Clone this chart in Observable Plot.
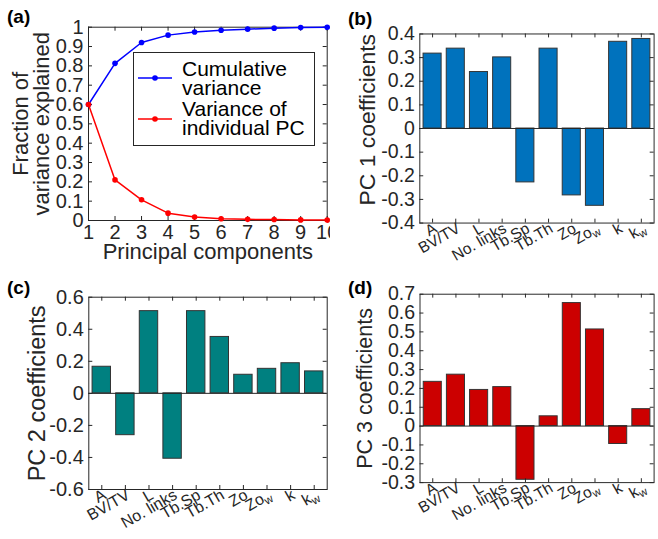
<!DOCTYPE html>
<html><head><meta charset="utf-8">
<script src="https://cdn.jsdelivr.net/npm/d3@7"></script>
<script src="https://cdn.jsdelivr.net/npm/@observablehq/plot@0.6"></script>
<style>
html,body{margin:0;padding:0;background:#fff;}
#fig{position:relative;width:658px;height:539px;overflow:hidden;font-family:"Liberation Sans",Arial,Helvetica,sans-serif;color:#262626;}
.panel{position:absolute;}
.panel svg{overflow:hidden;}
.plab{position:absolute;font-weight:bold;font-size:19px;line-height:19px;color:#000;}
#legend{position:absolute;left:133px;top:52px;width:182px;height:94px;border:1px solid #262626;background:#fff;box-sizing:border-box;}
.lrow{position:absolute;left:48px;font-size:21px;line-height:19px;white-space:pre;color:#000;}
.lsw{position:absolute;left:3px;}
</style></head><body><div id="fig"></div>
<script>
// ---------- data ----------
const components = [1, 2, 3, 4, 5, 6, 7, 8, 9, 10];
const cumulativeVariance = [0.60, 0.813, 0.921, 0.959, 0.975, 0.984, 0.990, 0.995, 0.998, 1.0];
const individualVariance = [0.60, 0.21, 0.107, 0.038, 0.018, 0.009, 0.006, 0.005, 0.003, 0.002];
const fractionTicks = [0, 0.1, 0.2, 0.3, 0.4, 0.5, 0.6, 0.7, 0.8, 0.9, 1];
const legendLabels = ["Cumulative\nvariance", "Variance of\nindividual PC"];
const seriesColors = ["#0000FF", "#FF0000"];

const categories = ["A", "BV/TV", "L", "No. links", "Tb.Sp", "Tb.Th", "Zo", "Zo_w", "k", "k_w"];
const pc1 = [0.317, 0.338, 0.239, 0.301, -0.228, 0.338, -0.283, -0.327, 0.367, 0.379];
const pc2 = [0.166, -0.261, 0.513, -0.408, 0.513, 0.352, 0.116, 0.153, 0.188, 0.137];
const pc3 = [0.235, 0.273, 0.192, 0.207, -0.285, 0.052, 0.653, 0.513, -0.095, 0.090];
const pc1Ticks = [-0.4, -0.3, -0.2, -0.1, 0, 0.1, 0.2, 0.3, 0.4];
const pc2Ticks = [-0.6, -0.4, -0.2, 0, 0.2, 0.4, 0.6];
const pc3Ticks = [-0.3, -0.2, -0.1, 0, 0.1, 0.2, 0.3, 0.4, 0.5, 0.6, 0.7];
const barColors = ["#0072BD", "#008080", "#CC0000"];
const panelLetters = ["(a)", "(b)", "(c)", "(d)"];

// ---------- helpers ----------
const AX = "#262626";
const FONT = "'Liberation Sans', Arial, Helvetica, sans-serif";
const TICK = 4;
const fig = document.getElementById("fig");
const fmt = d => String(+(+d).toFixed(2));

function styleOpts(w, h, m) {
  return {width: w, height: h, marginLeft: m[0], marginRight: m[1], marginTop: m[2], marginBottom: m[3],
    style: {fontFamily: FONT, fontSize: "20px", color: AX, background: "transparent", overflow: "hidden"}};
}
function boxAxes(xTicks, yTicks, xText, w, h, m) {
  const iw = w - m[0] - m[1], ih = h - m[2] - m[3];
  return [
    Plot.tickX(xTicks, {x: d => d, stroke: AX, insetTop: ih - TICK}),
    Plot.tickX(xTicks, {x: d => d, stroke: AX, insetBottom: ih - TICK}),
    Plot.tickY(yTicks, {y: d => d, stroke: AX, insetRight: iw - TICK}),
    Plot.tickY(yTicks, {y: d => d, stroke: AX, insetLeft: iw - TICK}),
    Plot.axisX(xTicks, {anchor: "bottom", tickSize: 0, label: null, ...xText}),
    Plot.axisY(yTicks, {anchor: "left", tickSize: 0, tickPadding: 5, tickFormat: fmt, label: null})
  ];
}
function place(el, left, top) {
  const d = document.createElement("div");
  d.className = "panel"; d.style.left = left + "px"; d.style.top = top + "px";
  d.appendChild(el); fig.appendChild(d);
}
function subscripts(svg) {
  svg.querySelectorAll('g[aria-label="x-axis tick label"] text').forEach(t => {
    const s = t.textContent;
    if (s.includes("_")) {
      const [b, sub] = s.split("_");
      t.textContent = b;
      const ts = document.createElementNS("http://www.w3.org/2000/svg", "tspan");
      ts.setAttribute("font-size", "0.72em");
      ts.setAttribute("dy", "0.3em");
      ts.textContent = sub;
      t.appendChild(ts);
    }
  });
}

// ---------- panel (a) ----------
const geomA = {w: 330, h: 270, m: [88, 3.3, 26.7, 50]};
const seriesA = [cumulativeVariance, individualVariance].map((vals, s) =>
  components.map((c, i) => ({pc: c, v: vals[i], s})));
const plotA = Plot.plot({
  ...styleOpts(geomA.w, geomA.h, geomA.m),
  x: {domain: [1, 10]},
  y: {domain: [0, 1]},
  marks: [
    Plot.frame({stroke: AX}),
    ...boxAxes(components, fractionTicks, {tickPadding: 4, tickFormat: fmt}, geomA.w, geomA.h, geomA.m),
    ...seriesA.flatMap((data, s) => [
      Plot.line(data, {x: "pc", y: "v", stroke: seriesColors[s], strokeWidth: 1.5}),
      Plot.dot(data, {x: "pc", y: "v", fill: seriesColors[s], r: 2.8})
    ]),
    Plot.text(["Principal components"], {text: d => d, frameAnchor: "bottom", textAnchor: "middle", lineAnchor: "middle", dy: 31, fontSize: 22, fill: AX}),
    Plot.text(["Fraction of\nvariance explained"], {text: d => d, frameAnchor: "left", textAnchor: "middle", lineAnchor: "middle", rotate: -90, dx: -56.5, fontSize: 22, lineHeight: 0.93, fill: AX})
  ]
});
place(plotA, 0, 0);

// legend for (a)
const leg = document.createElement("div");
leg.id = "legend";
legendLabels.forEach((lab, i) => {
  const row = document.createElement("div");
  row.className = "lrow"; row.style.top = (6 + i * 40) + "px";
  row.textContent = lab; leg.appendChild(row);
  const sw = document.createElementNS("http://www.w3.org/2000/svg", "svg");
  sw.setAttribute("class", "lsw"); sw.setAttribute("width", 36); sw.setAttribute("height", 10);
  sw.style.top = (20 + i * 41) + "px";
  sw.innerHTML = `<line x1="1" x2="35" y1="5" y2="5" stroke="${seriesColors[i]}" stroke-width="1.5"/><circle cx="18" cy="5" r="2.8" fill="${seriesColors[i]}"/>`;
  leg.appendChild(sw);
});
fig.appendChild(leg);

// ---------- bar panels ----------
function barPanel(values, ticks, color, label, geom) {
  const data = categories.map((c, i) => ({cat: c, v: values[i]}));
  const svg = Plot.plot({
    ...styleOpts(geom.w, geom.h, geom.m),
    x: {type: "band", domain: categories, paddingInner: 0.22, paddingOuter: 0.16, round: false},
    y: {domain: [ticks[0], ticks[ticks.length - 1]]},
    marks: [
      Plot.frame({stroke: AX}),
      Plot.barY(data, {x: "cat", y: "v", fill: color, stroke: "#333", strokeWidth: 1}),
      Plot.ruleY([0], {stroke: AX, strokeWidth: 1}),
      ...boxAxes(categories, ticks, {tickPadding: 4, tickRotate: -30, fontSize: 16, dx: 3, tickFormat: d => d}, geom.w, geom.h, geom.m),
      Plot.text([label], {text: d => d, frameAnchor: "left", textAnchor: "middle", lineAnchor: "middle", rotate: -90, dx: geom.ldx, dy: geom.ldy, fontSize: geom.lfs, fill: AX})
    ]
  });
  subscripts(svg);
  return svg;
}
place(barPanel(pc1, pc1Ticks, barColors[0], "PC 1 coefficients", {w: 336, h: 270, m: [91.5, 4.5, 34.3, 42], ldx: -53.5, ldy: -9, lfs: 23.5}), 330, 0);
place(barPanel(pc2, pc2Ticks, barColors[1], "PC 2 coefficients", {w: 330, h: 269, m: [88.3, 3.3, 26.7, 50], ldx: -51.3, ldy: 0, lfs: 23.5}), 0, 270);
place(barPanel(pc3, pc3Ticks, barColors[2], "PC 3 coefficients", {w: 336, h: 269, m: [91.7, 4.5, 24.3, 51.7], ldx: -56, ldy: 0, lfs: 22}), 330, 270);

// panel letters
[[7, 7], [348, 9], [7, 278], [348, 278]].forEach(([l, t], i) => {
  const d = document.createElement("div");
  d.className = "plab"; d.style.left = l + "px"; d.style.top = t + "px";
  d.textContent = panelLetters[i]; fig.appendChild(d);
});
</script></body></html>
